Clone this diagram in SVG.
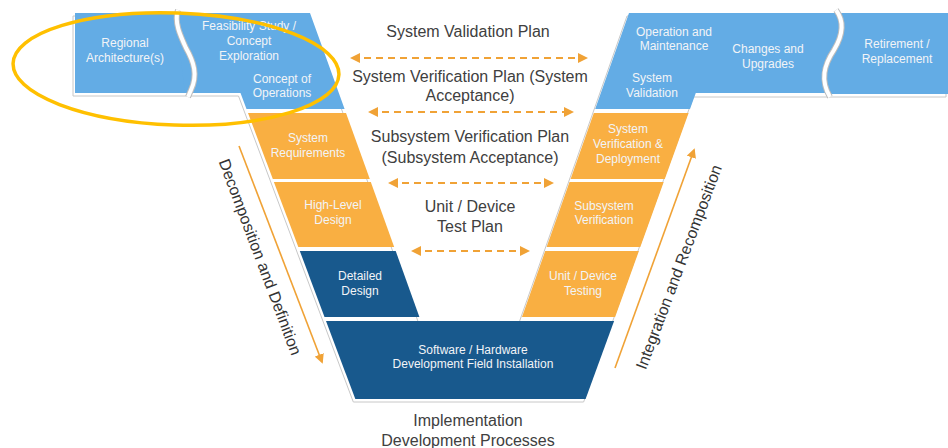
<svg xmlns="http://www.w3.org/2000/svg" width="948" height="448" viewBox="0 0 948 448">
<defs>
<style>
.lb{fill:#63ACE5}
.or{fill:#F9AF42}
.db{fill:#18598D}
.bt{font-family:"Liberation Sans",Arial,sans-serif;font-size:12px;fill:#F2F4F7;text-anchor:middle}
.ct{font-family:"Liberation Sans",Arial,sans-serif;font-size:16px;fill:#404040;text-anchor:middle}
.rt{font-family:"Liberation Sans",Arial,sans-serif;font-size:16px;fill:#333333;text-anchor:middle}
.da{stroke:#F0A236;stroke-width:2;stroke-dasharray:7 5;fill:none;marker-start:url(#ah);marker-end:url(#ah)}
.sa{stroke:#F0A236;stroke-width:1.6;fill:none;marker-end:url(#ah2)}
.wv1{stroke:#BDBDBD;stroke-width:6;fill:none}
.wv2{stroke:#FFFFFF;stroke-width:4;fill:none}
</style>
<marker id="ah" viewBox="0 0 10 10" refX="8" refY="5" markerWidth="5" markerHeight="5" orient="auto-start-reverse" markerUnits="strokeWidth">
<path d="M0,0 L10,5 L0,10 z" fill="#F0A236"/>
</marker>
<marker id="ah2" viewBox="0 0 10 10" refX="8" refY="5" markerWidth="6" markerHeight="6" orient="auto" markerUnits="strokeWidth">
<path d="M0,0 L10,5 L0,10 z" fill="#F0A236"/>
</marker>
</defs>
<rect width="948" height="448" fill="#FFFFFF"/>

<!-- shadow outline -->
<path d="M75,13 L310,13 L420.2,319 L521.3,319 L629,13 L948,13 L948,94 L695.4,94 L585.6,399 L355.3,399 L240.5,93 L75,93 Z" fill="none" stroke="#C8C8C8" stroke-width="1" transform="translate(-2,3)"/>

<g id="regional">
<rect class="lb" x="75" y="13" width="125" height="80"/>
<text class="bt" x="125" y="47">Regional</text>
<text class="bt" x="125" y="62">Architecture(s)</text>
</g>
<g id="feasibility">
<path class="lb" d="M175,13 L310,13 L344.6,109 L246.5,109 L240.5,93 L185,93 Z"/>
<text class="bt" x="249" y="30">Feasibility Study /</text>
<text class="bt" x="249" y="45">Concept</text>
<text class="bt" x="249" y="60">Exploration</text>
<text class="bt" x="282" y="83">Concept of</text>
<text class="bt" x="282" y="97">Operations</text>
</g>
<g id="sysreq">
<path class="or" d="M248,113 L346,113 L369.8,179 L272.8,179 Z"/>
<text class="bt" x="308" y="142">System</text>
<text class="bt" x="308" y="157">Requirements</text>
</g>
<g id="highlevel">
<path class="or" d="M273.9,182 L370.8,182 L394.2,247 L298.3,247 Z"/>
<text class="bt" x="333" y="209">High-Level</text>
<text class="bt" x="333" y="224">Design</text>
</g>
<g id="detailed">
<path class="db" d="M299.8,251 L395.7,251 L419.4,317 L324.5,317 Z"/>
<text class="bt" x="360" y="280">Detailed</text>
<text class="bt" x="360" y="295">Design</text>
</g>
<g id="implementation">
<path class="db" d="M326,321 L614.1,321 L585.6,399 L355.3,399 Z"/>
<text class="bt" x="473" y="354">Software / Hardware</text>
<text class="bt" x="473" y="368">Development Field Installation</text>
</g>
<g id="unittesting">
<path class="or" d="M545.2,251 L638.9,251 L615.1,317 L522,317 Z"/>
<text class="bt" x="583" y="280">Unit / Device</text>
<text class="bt" x="583" y="295">Testing</text>
</g>
<g id="subsysver">
<path class="or" d="M569.5,182 L663.7,182 L640.3,247 L546.6,247 Z"/>
<text class="bt" x="604" y="210">Subsystem</text>
<text class="bt" x="604" y="224">Verification</text>
</g>
<g id="sysver">
<path class="or" d="M593.8,113 L688.6,113 L664.8,179 L570.6,179 Z"/>
<text class="bt" x="628" y="133">System</text>
<text class="bt" x="628" y="148">Verification &amp;</text>
<text class="bt" x="628" y="163">Deployment</text>
</g>
<g id="operation">
<path class="lb" d="M629,13 L845,13 L835,93 L695.8,93 L690,109 L595.2,109 Z"/>
<text class="bt" x="674" y="36">Operation and</text>
<text class="bt" x="674" y="50">Maintenance</text>
<text class="bt" x="768" y="53">Changes and</text>
<text class="bt" x="768" y="68">Upgrades</text>
<text class="bt" x="652" y="82">System</text>
<text class="bt" x="652" y="97">Validation</text>
</g>
<g id="retirement">
<path class="lb" d="M825,13 L948,13 L948,94 L825,94 Z"/>
<text class="bt" x="897" y="48">Retirement /</text>
<text class="bt" x="897" y="63">Replacement</text>
</g>

<!-- wavy dividers -->
<g id="dividers">
<path class="wv1" d="M178,10 C174,22 180,35 186,48 C194,62 198,75 191,90 L188,97"/>
<path class="wv2" d="M178,10 C174,22 180,35 186,48 C194,62 198,75 191,90 L188,97"/>
<path class="wv1" d="M836,10 C845,22 843,35 834,50 C824,65 820,80 830,97"/>
<path class="wv2" d="M836,10 C845,22 843,35 834,50 C824,65 820,80 830,97"/>
</g>

<g id="connectors">
<line class="da" x1="352" y1="58" x2="586" y2="58"/>
<line class="da" x1="370" y1="112" x2="572" y2="112"/>
<line class="da" x1="390" y1="183" x2="552" y2="183"/>
<line class="da" x1="413" y1="251" x2="528" y2="251"/>
<line class="sa" x1="239" y1="146" x2="322" y2="362"/>
<line class="sa" x1="615" y1="368" x2="694" y2="150"/>
</g>

<g id="labels">
<text class="ct" x="468" y="37">System Validation Plan</text>
<text class="ct" x="470" y="82">System Verification Plan (System</text>
<text class="ct" x="470" y="101">Acceptance)</text>
<text class="ct" x="470" y="142">Subsystem Verification Plan</text>
<text class="ct" x="470" y="163">(Subsystem Acceptance)</text>
<text class="ct" x="470" y="212">Unit / Device</text>
<text class="ct" x="470" y="232">Test Plan</text>
<text class="ct" x="468" y="426">Implementation</text>
<text class="ct" x="468" y="446">Development Processes</text>
<text class="rt" transform="translate(255,259) rotate(69.4)">Decomposition and Definition</text>
<text class="rt" transform="translate(684,269) rotate(-69.4)">Integration and Recomposition</text>
</g>

<ellipse cx="176" cy="69" rx="163" ry="56" fill="none" stroke="#FFC000" stroke-width="3.5" transform="rotate(2 176 69)"/>
</svg>
